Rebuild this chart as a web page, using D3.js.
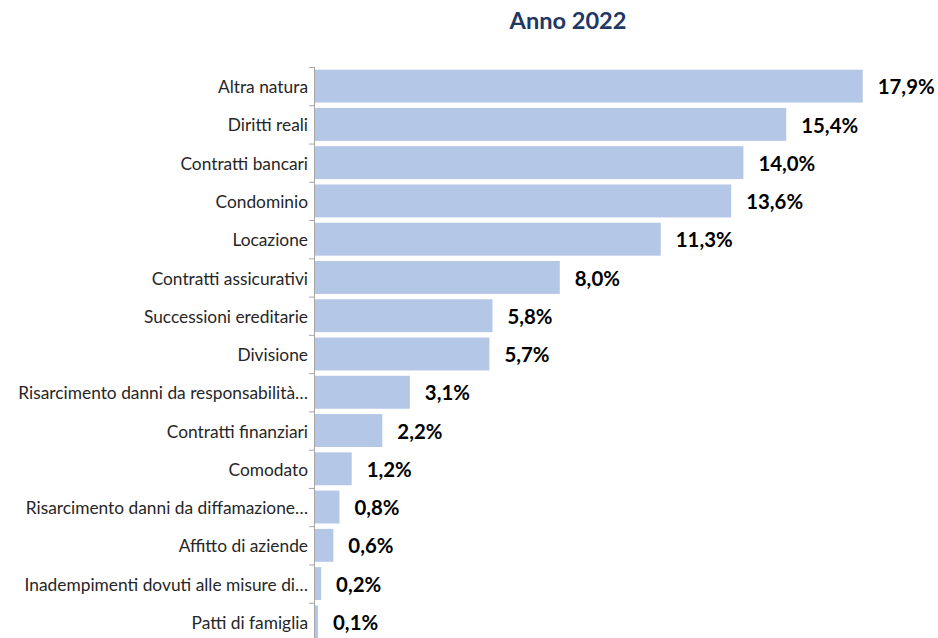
<!DOCTYPE html>
<html><head><meta charset="utf-8">
<script src="https://cdn.jsdelivr.net/npm/d3@7"></script>
<style>body{margin:0;background:#fff;} svg{display:block;}</style>
</head><body>
<svg id="c" width="938" height="638"></svg>
<script>
const categories = ["Altra natura","Diritti reali","Contratti bancari","Condominio","Locazione","Contratti assicurativi","Successioni ereditarie","Divisione","Risarcimento danni da responsabilità…","Contratti finanziari","Comodato","Risarcimento danni da diffamazione…","Affitto di aziende","Inadempimenti dovuti alle misure di…","Patti di famiglia"];
const values = [17.9,15.4,14.0,13.6,11.3,8.0,5.8,5.7,3.1,2.2,1.2,0.8,0.6,0.2,0.1];
const title = "Anno 2022";

const FONT = "Lato, 'Open Sans', sans-serif";
const svg = d3.select("#c");
const x0 = 315, yTop = 67, yBottom = 641;
const x = d3.scaleLinear().domain([0,20]).range([x0, x0 + 20*30.6]);
const y = d3.scaleBand().domain(categories).range([yTop,yBottom]).paddingInner(0.14).paddingOuter(0.07);

function fitSize(sel, base, target){
  const w = sel.node().getComputedTextLength();
  return base * target / w;
}

const t = svg.append("text").attr("x",568).attr("y",29).attr("text-anchor","middle")
  .attr("font-family",FONT).attr("font-weight","bold").attr("font-size",20)
  .attr("fill","#1F3864").text(title);
t.attr("font-size", fitSize(t,20,117));

svg.selectAll("rect.bar").data(values).join("rect").attr("class","bar")
  .attr("x",x(0)).attr("y",(d,i)=>y(categories[i]))
  .attr("width",d=>x(d)-x(0)).attr("height",y.bandwidth())
  .attr("fill","#B4C7E7");

const step = y.step();
const ax = svg.append("g");
ax.append("line").attr("x1",x0-0.5).attr("x2",x0-0.5).attr("y1",yTop).attr("y2",yBottom).attr("stroke","#A6A6A6");
d3.range(categories.length+1).forEach(i=>{
  ax.append("line").attr("x1",x0-6).attr("x2",x0).attr("y1",yTop+i*step+0.5).attr("y2",yTop+i*step+0.5).attr("stroke","#A6A6A6");
});

const cats = svg.selectAll("text.cat").data(categories).join("text").attr("class","cat")
  .attr("x",x0-7).attr("y",d=>y(d)+y.bandwidth()/2+1).attr("dy","0.35em")
  .attr("text-anchor","end").attr("font-family",FONT).attr("font-size",14)
  .attr("fill","#262626").text(d=>d);
const longest = cats.filter((d,i)=>i===8);
cats.attr("font-size", fitSize(longest,14,290));

const vals = svg.selectAll("text.val").data(values).join("text").attr("class","val")
  .attr("x",d=>x(d)+15).attr("y",(d,i)=>y(categories[i])+y.bandwidth()/2+1).attr("dy","0.35em")
  .attr("font-family",FONT).attr("font-weight","bold").attr("font-size",18)
  .attr("fill","#000").text(d=>d3.format(".1f")(d).replace(".",",")+"%");
vals.attr("font-size", fitSize(vals.filter((d,i)=>i===0),18,57));
</script>
</body></html>
